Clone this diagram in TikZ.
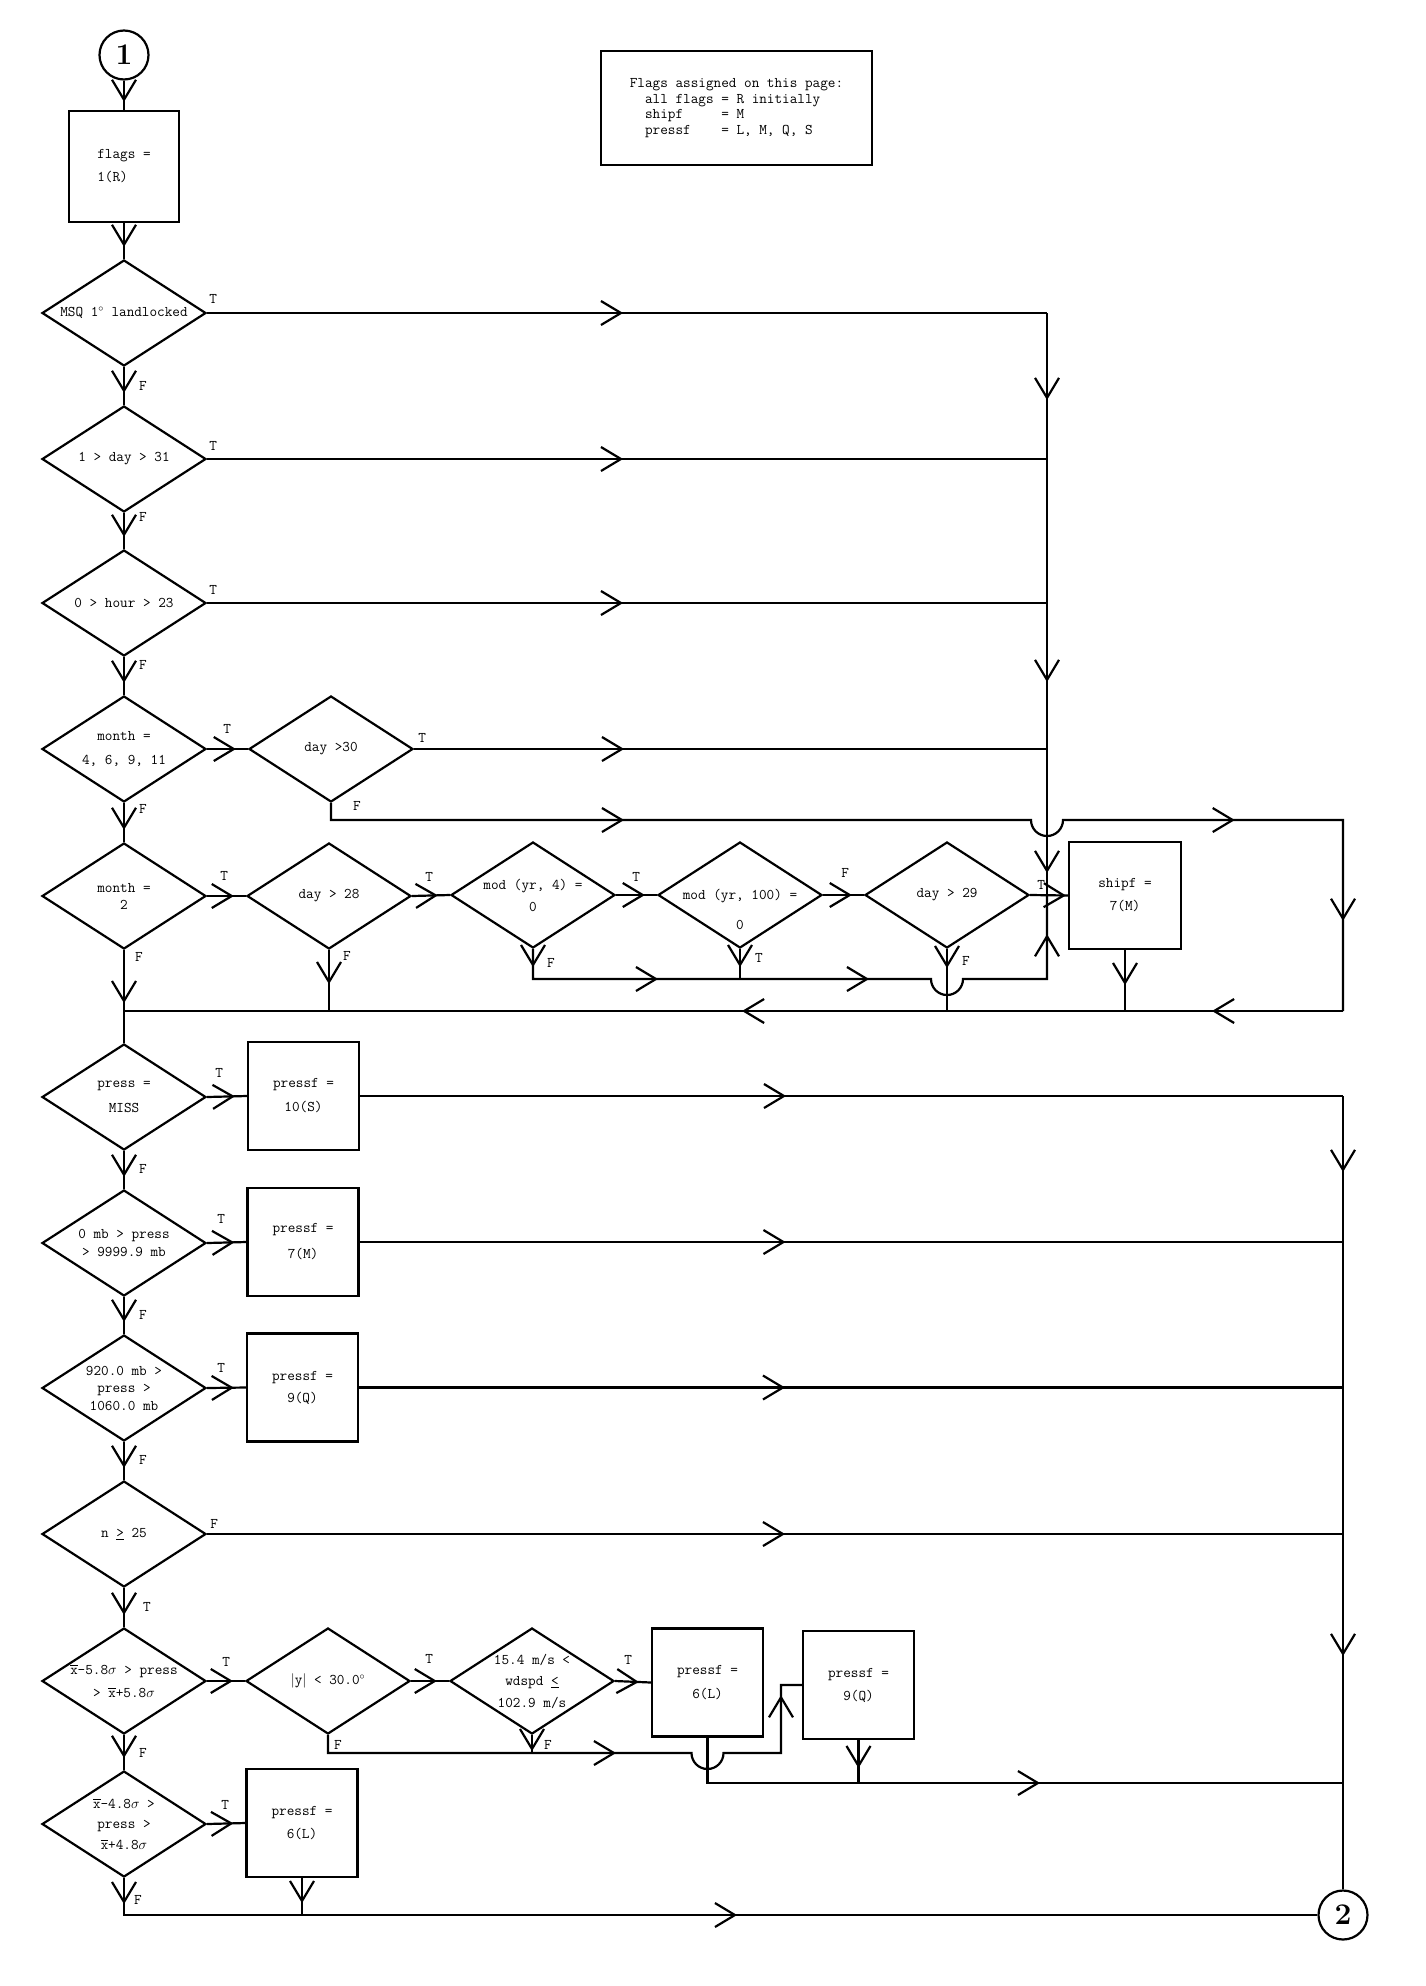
\documentclass[tikz,border=0pt]{standalone}
\usepackage{amsmath}
\usepackage{amssymb}
\usepackage{tikz}
\usetikzlibrary{shapes.geometric,arrows.meta,decorations.markings}

\tikzset{
  barb/.tip={Straight Barb[length=20pt,width=24pt]},
  vee at/.style={postaction={decorate,decoration={markings,
      mark=at position #1 with {\arrow{barb}}}}},
}

\begin{document}
\begin{tikzpicture}[x=1pt,y=-1pt,line width=2.2pt,
    font=\fontsize{14.8}{23}\selectfont\ttfamily]
    \tikzstyle{wire}=[draw]
    \tikzstyle{flow}=[wire, vee at=-12pt]
    \tikzstyle{decision}=[diamond,draw,minimum width=164pt,minimum height=106pt,inner sep=0pt]
    \tikzstyle{process}=[rectangle,draw,minimum width=111pt,minimum height=108pt,inner sep=0pt,align=center]
    \tikzstyle{conn}=[circle,draw,minimum size=49pt,inner sep=0pt,font=\fontsize{30}{30}\selectfont\rmfamily\bfseries]
    \tikzstyle{note}=[rectangle,draw,minimum width=271pt,minimum height=114pt,inner sep=0pt,align=left,font=\fontsize{14.8}{15.6}\selectfont\ttfamily]
    \tikzstyle{txt}=[inner sep=0pt,align=center]
    \tikzstyle{lbl}=[inner sep=0pt]

    \useasboundingbox (0,0) rectangle (1425,1986);

    % Entry, initial flags and the legend
    \node[conn] (c1) at (124,55) {1};
    \node[process,align=left,minimum width=110pt,minimum height=111pt] (init) at (124,166.5) {flags =\\1(R)};
    \node[note] (legend) at (736.5,108) {Flags assigned on this page:\\
        \hphantom{xx}all flags = R initially\\
        \hphantom{xx}shipf\hphantom{xxxx} = M\\
        \hphantom{xx}pressf\hphantom{xxx} = L, M, Q, S};

    % Position and date / time checks
    \node[decision,label={[txt]center:{MSQ 1$^{\circ}$ landlocked}}] (msq) at (124,313) {};
    \node[decision,label={[txt]center:{1 > day > 31}}] (d31) at (124,459) {};
    \node[decision,label={[txt]center:{0 > hour > 23}}] (hour) at (124,603) {};
    \node[decision,label={[txt]center:{month =\\[1pt]4, 6, 9, 11}}] (mon4) at (124,749) {};
    \node[decision,label={[txt]center:{day >30}}] (d30) at (331,749) {};
    \node[decision,label={[txt]center:{month =\\[-6pt]2}}] (mon2) at (124,896) {};
    \node[decision,label={[txt]center:{day > 28}}] (d28) at (329,896) {};
    \node[decision,label={[txt]center:{mod (yr, 4) =\\[-1pt]0}}] (mod4) at (533,895) {};
    \node[decision,label={[txt,yshift=-14pt]center:{mod (yr, 100) =\\[7pt]0}}] (mod100) at (740,895) {};
    \node[decision,label={[txt]center:{day > 29}}] (d29) at (947,895) {};
    \node[process,minimum width=112pt,minimum height=107pt] (shipf) at (1125,895.5) {shipf =\\7(M)};

    % Pressure checks
    \node[decision,label={[txt]center:{press =\\[2pt]MISS}}] (pmiss) at (124,1097) {};
    \node[process] (pS) at (303.5,1096) {pressf =\\[1pt]10(S)};
    \node[decision,label={[txt]center:{0 mb > press\\[-5pt]> 9999.9 mb}}] (p0) at (124,1243) {};
    \node[process] (pM) at (303,1242) {pressf =\\[3pt]7(M)};
    \node[decision,label={[txt]center:{920.0 mb >\\[-5.5pt]press >\\[-5.5pt]1060.0 mb}}] (p920) at (124,1388) {};
    \node[process] (pQ) at (302.5,1387.5) {pressf =\\[-1pt]9(Q)};
    \node[decision,label={[txt]center:{n \underline{>} 25}}] (n25) at (124,1534) {};
    \node[decision,label={[txt]center:{$\overline{\mathtt{x}}$-5.8$\sigma$ > press\\> $\overline{\mathtt{x}}$+5.8$\sigma$}}] (x58) at (124,1681) {};
    \node[decision,label={[txt]center:{$|$y$|$ < 30.0$^{\circ}$}}] (ylat) at (328,1681) {};
    \node[decision,label={[txt]center:{15.4 m/s <\\[-1.5pt]wdspd \underline{<}\\[-1.5pt]102.9 m/s}}] (wd) at (532,1681) {};
    \node[process] (pL1) at (707.5,1682.5) {pressf =\\[1pt]6(L)};
    \node[process] (pQ2) at (858.5,1685) {pressf =\\9(Q)};
    \node[decision,label={[txt]center:{$\overline{\mathtt{x}}$-4.8$\sigma$ >\\[-2.5pt]press >\\[-2.5pt]$\overline{\mathtt{x}}$+4.8$\sigma$}}] (x48) at (124,1824) {};
    \node[process] (pL2) at (302,1823) {pressf =\\6(L)};
    \node[conn] (c2) at (1343,1915) {2};

    % Corners of the collecting lines
    \coordinate (busA) at (1047,313);
    \coordinate (busB) at (1343,820);
    \coordinate (busC) at (1343,1096);
    \coordinate (retL) at (124,1011);
    \coordinate (leap) at (1047,979);
    \coordinate (wdF) at (781,1753);
    \coordinate (pJoin) at (707.5,1783);

    % Main column
    \draw[wire,vee at=-8pt] (c1) -- (init);
    \draw[flow] (init) -- (msq);
    \foreach \a/\b/\dy in {msq/d31/19,d31/hour/4,hour/mon4/8,mon4/mon2/6}{
        \draw[flow] (\a.south) -- (\b.north);
        \node[lbl] (F-\a) at ([shift={(19,\dy)}]\a.south) {F};
    }
    \draw[wire,vee at=53pt] (mon2.south) -- (pmiss.north);
    \node[lbl] (F-mon2) at ([shift={(15,7)}]mon2.south) {F};
    \foreach \a/\b in {pmiss/p0,p0/p920,p920/n25,x58/x48}{
        \draw[flow] (\a.south) -- (\b.north);
        \node[lbl] (F-\a) at ([shift={(19,18)}]\a.south) {F};
    }
    \draw[flow] (n25.south) -- (x58.north);
    \node[lbl] (T-n25) at ([shift={(23,19)}]n25.south) {T};

    % Branches to the right
    \foreach \a/\b/\dx/\dy/\t in {mon4/d30/20/-20/T,mon2/d28/17/-20/T,d28/mod4/17/-19/T,
        mod4/mod100/20/-18/T,mod100/d29/22/-22/F,pmiss/pS/12/-24/T,p0/pM/14/-24/T,
        p920/pQ/14/-20/T,x58/ylat/19/-19/T,ylat/wd/18/-22/T,wd/pL1/13/-21/T,x48/pL2/18/-19/T}{
        \draw[flow] (\a.east) -- (\b.west);
        \node[lbl] (\t-\a) at ([shift={(\dx,\dy)}]\a.east) {\t};
    }
    \draw[wire,vee at=-2pt] (d29.east) -- (shipf.west);
    \node[lbl] (T-d29) at ([shift={(11,-10)}]d29.east) {T};

    % Bad date or time: collect into shipf
    \foreach \src/\dy in {msq/-14,d31/-13,hour/-13}{
        \draw[wire,vee at=416pt] (\src.east) -- (\src.east -| busA);
        \node[lbl] (T-\src) at ([shift={(6,\dy)}]\src.east) {T};
    }
    \draw[wire,vee at=210pt] (d30.east) -- (d30.east -| busA);
    \node[lbl] (T-d30) at ([shift={(8,-11)}]d30.east) {T};
    \draw[wire,vee at=87pt,vee at=369pt,vee at=560pt] (busA) -- (busA |- shipf.west);

    % Leap year tests
    \draw[wire,vee at=18pt,vee at=155pt,vee at=366pt,vee at=607pt]
        (mod4.south) -- (mod4.south |- leap) -- ([xshift=-16pt]d29.south |- leap)
        arc[start angle=180,end angle=0,radius=16] -- (leap) -- (busA |- shipf.west);
    \node[lbl] (F-mod4) at ([shift={(18,14)}]mod4.south) {F};
    \draw[wire,vee at=18pt] (mod100.south) -- (mod100.south |- leap);
    \node[lbl] (T-mod100) at ([shift={(19,9)}]mod100.south) {T};

    % Good date: return to the main column
    \draw[wire,vee at=310pt,vee at=939pt,vee at=1148pt]
        (d30.south) -- (d30.south |- busB) -- ([xshift=-16pt]busA |- busB)
        arc[start angle=180,end angle=0,radius=16] -- (busB) -- (busB |- retL);
    \node[lbl] (F-d30) at ([shift={(26,3)}]d30.south) {F};
    \draw[wire,vee at=131pt,vee at=601pt] (busB |- retL) -- (retL);
    \draw[wire,vee at=34pt] (d28.south) -- (d28.south |- retL);
    \node[lbl] (F-d28) at ([shift={(18,6)}]d28.south) {F};
    \draw[wire,vee at=19pt] (d29.south) -- (d29.south |- retL);
    \node[lbl] (F-d29) at ([shift={(19,12)}]d29.south) {F};
    \draw[wire,vee at=35pt] (shipf.south) -- (shipf.south |- retL);

    % Pressure flags: collect into connector 2
    \foreach \src in {pS,pM,pQ}
        \draw[wire,vee at=426pt] (\src.east) -- (\src.east -| busC);
    \draw[wire,vee at=578pt] (n25.east) -- (n25.east -| busC);
    \node[lbl] (F-n25) at ([shift={(7,-10)}]n25.east) {F};
    \draw[wire,vee at=76pt,vee at=560pt] (busC) -- (c2);

    \draw[wire,vee at=306pt,vee at=547pt]
        (ylat.south) -- (ylat.south |- wdF) -- ([xshift=-16pt]pL1.south |- wdF)
        arc[start angle=180,end angle=0,radius=16] -- (wdF) |- (pQ2.west);
    \node[lbl] (F-ylat) at ([shift={(10,10)}]ylat.south) {F};
    \draw[wire,vee at=16pt] (wd.south) -- (wd.south |- wdF);
    \node[lbl] (F-wd) at ([shift={(16,10)}]wd.south) {F};
    \draw[wire,vee at=378pt] (pL1.south) -- (pJoin) -- (pJoin -| busC);
    \draw[wire,vee at=28pt] (pQ2.south) -- (pQ2.south |- pJoin);

    \draw[wire,vee at=26pt,vee at=650pt] (x48.south) -- (x48.south |- c2.west) -- (c2.west);
    \node[lbl] (F-x48) at ([shift={(14,22)}]x48.south) {F};
    \draw[wire,vee at=25pt] (pL2.south) -- (pL2.south |- c2.west);
\end{tikzpicture}
\end{document}
